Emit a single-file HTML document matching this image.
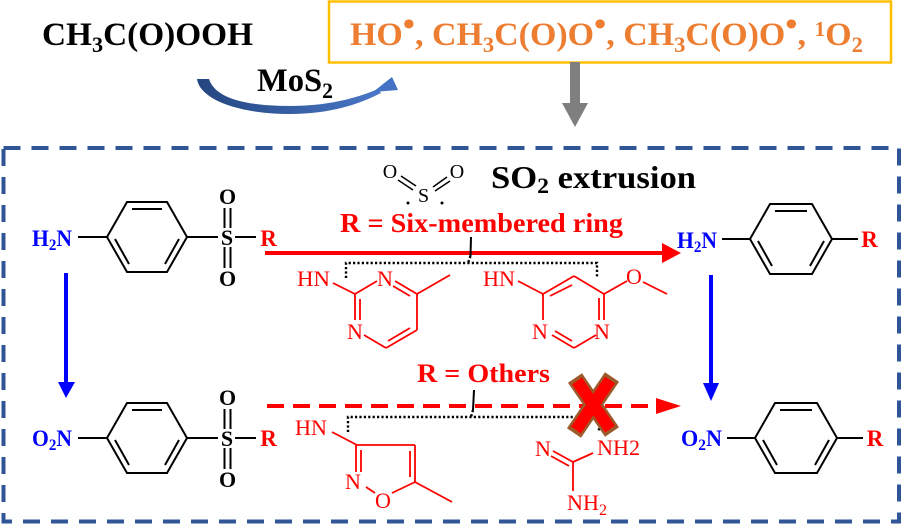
<!DOCTYPE html>
<html><head><meta charset="utf-8"><style>
html,body{margin:0;padding:0;background:#fff;}
svg{display:block;}
</style></head><body>
<svg width="902" height="524" viewBox="0 0 902 524" xmlns="http://www.w3.org/2000/svg" font-family="'Liberation Serif', 'Times New Roman', serif">
<defs>
<linearGradient id="bg" x1="0" y1="0" x2="1" y2="0">
<stop offset="0" stop-color="#24457F"/><stop offset="1" stop-color="#4A78C8"/>
</linearGradient>
</defs>
<rect width="902" height="524" fill="#fff"/>

<!-- top -->
<text x="42" y="45" font-size="33" font-weight="bold" textLength="211" lengthAdjust="spacingAndGlyphs" fill="#000">CH<tspan font-size="22" dy="7">3</tspan><tspan dy="-7">C(O)OOH</tspan></text>
<rect x="329" y="1.5" width="562" height="61" fill="none" stroke="#FFC000" stroke-width="2.5"/>
<text x="350" y="45" font-size="33" font-weight="bold" fill="#ED7D31" textLength="513" lengthAdjust="spacingAndGlyphs">HO<tspan font-size="34" dy="-10">•</tspan><tspan dy="10">, CH</tspan><tspan font-size="22" dy="7">3</tspan><tspan dy="-7">C(O)O</tspan><tspan font-size="34" dy="-10">•</tspan><tspan dy="10">, CH</tspan><tspan font-size="22" dy="7">3</tspan><tspan dy="-7">C(O)O</tspan><tspan font-size="34" dy="-10">•</tspan><tspan dy="10">, </tspan><tspan font-size="21" dy="-9">1</tspan><tspan dy="9">O</tspan><tspan font-size="22" dy="7">2</tspan></text>
<rect x="570" y="62" width="10" height="42" fill="#7F7F7F"/>
<polygon points="562,103 588,103 575,127" fill="#7F7F7F"/>
<path d="M197,79 C200,100 240,114 290,114 C330,114 360,104 381,93 L378,89 C355,99 325,106 290,106 C245,106 215,98 209,79 Z" fill="url(#bg)"/>
<polygon points="373,92 398,90 392,77" fill="#4472C4"/>
<text x="257" y="91" font-size="33" font-weight="bold" textLength="76" lengthAdjust="spacingAndGlyphs">MoS<tspan font-size="22" dy="7">2</tspan></text>

<!-- dashed box -->
<rect x="3.5" y="148" width="895.5" height="373.5" fill="none" stroke="#2F5597" stroke-width="4" stroke-dasharray="17 11"/>

<!-- SO2 extrusion -->
<text x="491" y="188" font-size="32" font-weight="bold" textLength="205" lengthAdjust="spacingAndGlyphs">SO<tspan font-size="22" dy="5">2</tspan><tspan dy="-5"> extrusion</tspan></text>
<g font-size="20" fill="#000" text-anchor="middle">
<text x="390" y="178">O</text><text x="457" y="178">O</text><text x="423.5" y="202">S</text>
</g>
<g stroke="#000" stroke-width="1.5">
<line x1="398" y1="180" x2="413" y2="190"/><line x1="401" y1="176" x2="416" y2="186"/>
<line x1="433" y1="187" x2="447" y2="177"/><line x1="435" y1="191" x2="450" y2="181"/>
</g>
<circle cx="408" cy="203" r="1.5" fill="#000"/><circle cx="442" cy="203" r="1.5" fill="#000"/>

<text x="340" y="232" font-size="27" font-weight="bold" fill="#FF0000" textLength="283" lengthAdjust="spacingAndGlyphs">R = Six-membered ring</text>
<text x="417" y="382" font-size="26" font-weight="bold" fill="#FF0000" textLength="133" lengthAdjust="spacingAndGlyphs">R = Others</text>

<!-- red arrows -->
<line x1="265" y1="253" x2="664" y2="253" stroke="#FF0000" stroke-width="4"/>
<polygon points="662,243 681,253 662,263" fill="#FF0000"/>
<line x1="267" y1="406" x2="658" y2="406" stroke="#FF0000" stroke-width="4" stroke-dasharray="17 9"/>
<polygon points="656,398 681,406 656,414" fill="#FF0000"/>

<!-- blue arrows -->
<line x1="66" y1="273" x2="66" y2="384" stroke="#0000FF" stroke-width="4"/>
<polygon points="58,382 75,382 66,398" fill="#0000FF"/>
<line x1="711" y1="275" x2="711" y2="385" stroke="#0000FF" stroke-width="4"/>
<polygon points="703,383 719,383 711,401" fill="#0000FF"/>

<!-- benzene rings -->
<g stroke="#000" stroke-width="2" fill="none">
<polygon points="107,237 127,202 167,202 187,237 167,272 127,272"/>
<line x1="132" y1="209" x2="162" y2="209"/><line x1="115" y1="239" x2="129" y2="264"/><line x1="179" y1="239" x2="165" y2="264"/>
<line x1="78" y1="237" x2="107" y2="237"/><line x1="187" y1="237" x2="218" y2="237"/><line x1="235" y1="237" x2="256" y2="237"/>
<line x1="224.5" y1="208" x2="224.5" y2="228"/><line x1="230.5" y1="208" x2="230.5" y2="228"/>
<line x1="224.5" y1="247" x2="224.5" y2="268"/><line x1="230.5" y1="247" x2="230.5" y2="268"/>

<polygon points="107,438 127,403 167,403 187,438 167,473 127,473"/>
<line x1="132" y1="410" x2="162" y2="410"/><line x1="115" y1="440" x2="129" y2="465"/><line x1="179" y1="440" x2="165" y2="465"/>
<line x1="78" y1="438" x2="107" y2="438"/><line x1="187" y1="438" x2="218" y2="438"/><line x1="235" y1="438" x2="256" y2="438"/>
<line x1="224.5" y1="409" x2="224.5" y2="429"/><line x1="230.5" y1="409" x2="230.5" y2="429"/>
<line x1="224.5" y1="448" x2="224.5" y2="469"/><line x1="230.5" y1="448" x2="230.5" y2="469"/>

<polygon points="750,239 770,204 812,204 832,239 812,274 770,274"/>
<line x1="775" y1="211" x2="807" y2="211"/><line x1="758" y1="241" x2="772" y2="266"/><line x1="824" y1="241" x2="810" y2="266"/>
<line x1="722" y1="239" x2="750" y2="239"/><line x1="832" y1="239" x2="858" y2="239"/>

<polygon points="755,438 775,403 817,403 837,438 817,473 775,473"/>
<line x1="780" y1="410" x2="812" y2="410"/><line x1="763" y1="440" x2="777" y2="465"/><line x1="829" y1="440" x2="815" y2="465"/>
<line x1="727" y1="438" x2="755" y2="438"/><line x1="837" y1="438" x2="863" y2="438"/>
</g>

<!-- molecule labels -->
<g font-weight="bold">
<text x="32" y="246" font-size="23" fill="#0000FF" textLength="40" lengthAdjust="spacingAndGlyphs">H<tspan font-size="16" dy="4">2</tspan><tspan dy="-4">N</tspan></text>
<text x="32" y="446" font-size="23" fill="#0000FF" textLength="40" lengthAdjust="spacingAndGlyphs">O<tspan font-size="16" dy="4">2</tspan><tspan dy="-4">N</tspan></text>
<text x="677" y="248" font-size="23" fill="#0000FF" textLength="40" lengthAdjust="spacingAndGlyphs">H<tspan font-size="16" dy="4">2</tspan><tspan dy="-4">N</tspan></text>
<text x="681" y="446" font-size="23" fill="#0000FF" textLength="41" lengthAdjust="spacingAndGlyphs">O<tspan font-size="16" dy="4">2</tspan><tspan dy="-4">N</tspan></text>
<g font-size="22" text-anchor="middle" fill="#000">
<text x="227.5" y="204">O</text><text x="227" y="245">S</text><text x="227.5" y="286">O</text>
<text x="227.5" y="405">O</text><text x="227" y="446">S</text><text x="227.5" y="487">O</text>
</g>
<g font-size="23" fill="#FF0000" text-anchor="middle">
<text x="268.5" y="246">R</text><text x="268.5" y="446">R</text>
<text x="869.5" y="247">R</text><text x="875" y="446">R</text>
</g>
</g>

<!-- dotted brackets -->
<g stroke="#000" fill="none">
<line x1="471" y1="237" x2="470.5" y2="256" stroke-width="2"/>
<path d="M346,278 L346,263 L597,263 L597,278 M470.5,256 L468,263" stroke-width="2.4" stroke-dasharray="2.2 2.2"/>
<line x1="474" y1="390" x2="473" y2="410" stroke-width="2"/>
<path d="M348,432 L348,417 L599,417 L599,432 M473,410 L471,417" stroke-width="2.4" stroke-dasharray="2.2 2.2"/>
</g>

<!-- pyrimidine 1 -->
<g stroke="#FF0000" stroke-width="1.8" fill="none">
<line x1="355" y1="294" x2="377" y2="281"/>
<line x1="395" y1="281" x2="417" y2="294"/><line x1="393" y1="286" x2="410" y2="296"/>
<line x1="417" y1="294" x2="417" y2="330"/>
<line x1="417" y1="330" x2="386" y2="348"/><line x1="410" y1="328" x2="388" y2="341"/>
<line x1="386" y1="348" x2="364" y2="335"/>
<line x1="355" y1="294" x2="355" y2="320"/><line x1="360" y1="299" x2="360" y2="320"/>
<line x1="355" y1="294" x2="333" y2="283"/>
<line x1="417" y1="294" x2="450" y2="275"/>
</g>
<!-- pyrimidine 2 -->
<g stroke="#FF0000" stroke-width="1.8" fill="none">
<line x1="543" y1="294" x2="574" y2="276"/><line x1="550" y1="296" x2="572" y2="285"/>
<line x1="574" y1="276" x2="604" y2="294"/>
<line x1="604" y1="294" x2="604" y2="320"/><line x1="599" y1="298" x2="599" y2="320"/>
<line x1="596" y1="335" x2="574" y2="348"/>
<line x1="574" y1="348" x2="552" y2="335"/><line x1="572" y1="341" x2="555" y2="331"/>
<line x1="543" y1="320" x2="543" y2="294"/>
<line x1="543" y1="294" x2="518" y2="281"/>
<line x1="604" y1="294" x2="627" y2="281"/>
<line x1="643" y1="282" x2="667" y2="294"/>
</g>
<!-- isoxazole -->
<g stroke="#FF0000" stroke-width="1.8" fill="none">
<line x1="332" y1="432" x2="357" y2="445"/>
<line x1="356" y1="445" x2="415" y2="445"/>
<line x1="415" y1="445" x2="415" y2="482"/><line x1="410" y1="451" x2="410" y2="477"/>
<line x1="415" y1="482" x2="392" y2="493"/>
<line x1="366" y1="487" x2="375" y2="493"/>
<line x1="356" y1="445" x2="356" y2="472"/><line x1="361" y1="450" x2="361" y2="472"/>
<line x1="415" y1="482" x2="452" y2="502"/>
</g>
<!-- guanidine -->
<g stroke="#FF0000" stroke-width="1.8" fill="none">
<line x1="553" y1="451" x2="573" y2="462"/><line x1="551" y1="456" x2="569" y2="466"/>
<line x1="573" y1="462" x2="593" y2="453"/>
<line x1="573" y1="462" x2="573" y2="491"/>
</g>
<g font-size="22" fill="#FF0000">
<text x="297" y="286" textLength="33" lengthAdjust="spacingAndGlyphs">HN</text>
<text x="377" y="286">N</text>
<text x="347" y="339">N</text>
<text x="483" y="286" textLength="32" lengthAdjust="spacingAndGlyphs">HN</text>
<text x="532" y="339">N</text>
<text x="594" y="339">N</text>
<text x="626" y="284">O</text>
<text x="295" y="435" textLength="32" lengthAdjust="spacingAndGlyphs">HN</text>
<text x="345" y="489">N</text>
<text x="375" y="508">O</text>
<text x="535" y="456">N</text>
<text x="597" y="455" textLength="43" lengthAdjust="spacingAndGlyphs">NH2</text>
<text x="567" y="510" textLength="40" lengthAdjust="spacingAndGlyphs">NH<tspan font-size="16" dy="5">2</tspan></text>
</g>

<!-- red X -->
<g stroke-linecap="butt">
<line x1="575" y1="378" x2="612" y2="432" stroke="#9C5A2A" stroke-width="17"/>
<line x1="612" y1="377" x2="574" y2="433" stroke="#9C5A2A" stroke-width="17"/>
<line x1="577" y1="381" x2="610" y2="429" stroke="#FF0000" stroke-width="12"/>
<line x1="610" y1="380" x2="576" y2="430" stroke="#FF0000" stroke-width="12"/>
</g>
</svg>
</body></html>
